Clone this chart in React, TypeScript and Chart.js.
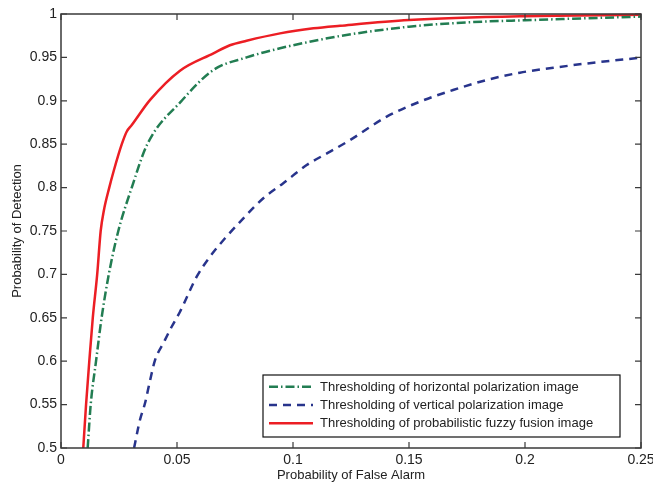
import React, { useEffect, useRef } from "react";
import { Chart, registerables } from "chart.js";

Chart.register(...registerables);

// Horizontal polarization thresholding (green dash-dot)
const hPfa = [0.0115, 0.0128, 0.0151, 0.0175, 0.0206, 0.0247, 0.0305, 0.0372, 0.052, 0.0657, 0.08, 0.0944, 0.1088, 0.1203, 0.15, 0.176, 0.2, 0.25];
const hPd = [0.5, 0.55, 0.6, 0.65, 0.7, 0.75, 0.8, 0.85, 0.9, 0.9355, 0.95, 0.9605, 0.9689, 0.9747, 0.9854, 0.9905, 0.9928, 0.997];

// Vertical polarization thresholding (blue dashed)
const vPfa = [0.0315, 0.034, 0.0362, 0.0384, 0.0405, 0.0441, 0.0477, 0.0513, 0.0585, 0.0642, 0.0707, 0.0786, 0.0872, 0.0958, 0.1059, 0.116, 0.1246, 0.1404, 0.1547, 0.169, 0.1835, 0.1978, 0.2122, 0.2266, 0.25];
const vPd = [0.5, 0.532, 0.5515, 0.578, 0.601, 0.6206, 0.6397, 0.657, 0.6974, 0.7204, 0.7416, 0.7646, 0.7877, 0.805, 0.826, 0.8414, 0.8548, 0.8817, 0.899, 0.9124, 0.924, 0.9324, 0.938, 0.943, 0.9497];

// Probabilistic fuzzy fusion thresholding (red solid)
const fPfa = [0.0096, 0.0108, 0.0122, 0.0137, 0.0156, 0.0171, 0.0185, 0.0208, 0.0228, 0.0262, 0.0283, 0.0305, 0.0384, 0.0513, 0.0657, 0.0728, 0.08, 0.0944, 0.1088, 0.1203, 0.15, 0.2, 0.25];
const fPd = [0.5, 0.55, 0.6, 0.65, 0.7, 0.75, 0.774, 0.8, 0.82, 0.85, 0.8644, 0.872, 0.901, 0.9347, 0.9547, 0.964, 0.9692, 0.9777, 0.9835, 0.9865, 0.993, 0.9975, 0.999];

const seriesLabels = [
  "Thresholding of horizontal polarization image",
  "Thresholding of vertical polarization image",
  "Thresholding of probabilistic fuzzy fusion image",
];

const xTicks = [0, 0.05, 0.1, 0.15, 0.2, 0.25];
const yTicks = [0.5, 0.55, 0.6, 0.65, 0.7, 0.75, 0.8, 0.85, 0.9, 0.95, 1];

const FONT = "'Liberation Sans', Arial, Helvetica, sans-serif";
const GREEN = "rgb(34,125,82)";
const BLUE = "rgb(40,52,140)";
const RED = "rgb(236,30,36)";

const toPts = (xs: number[], ys: number[]) => xs.map((x, i) => ({ x, y: ys[i] }));

const framePlugin = {
  id: "matlabFrame",
  afterDraw(chart: any) {
    const { ctx, chartArea } = chart;
    const { left, top, right, bottom } = chartArea;
    const xs = chart.scales.x;
    const ys = chart.scales.y;
    ctx.save();
    ctx.strokeStyle = "#3a3a3a";
    ctx.lineWidth = 1.5;
    ctx.strokeRect(left, top, right - left, bottom - top);
    ctx.lineWidth = 1.2;
    const tl = 6;
    ctx.beginPath();
    xTicks.forEach((v) => {
      const px = xs.getPixelForValue(v);
      ctx.moveTo(px, bottom);
      ctx.lineTo(px, bottom - tl);
      ctx.moveTo(px, top);
      ctx.lineTo(px, top + tl);
    });
    yTicks.forEach((v) => {
      const py = ys.getPixelForValue(v);
      ctx.moveTo(left, py);
      ctx.lineTo(left + tl, py);
      ctx.moveTo(right, py);
      ctx.lineTo(right - tl, py);
    });
    ctx.stroke();

    // legend
    const bx1 = right - 21;
    const bx0 = bx1 - 357;
    const by1 = bottom - 11;
    const by0 = by1 - 62;
    ctx.fillStyle = "#fff";
    ctx.fillRect(bx0, by0, bx1 - bx0, by1 - by0);
    ctx.strokeStyle = "#111";
    ctx.lineWidth = 1.2;
    ctx.strokeRect(bx0, by0, bx1 - bx0, by1 - by0);
    const rows = [11.7, 30, 48.3];
    chart.data.datasets.forEach((ds: any, i: number) => {
      const yy = by0 + rows[i];
      ctx.beginPath();
      ctx.setLineDash(ds.borderDash || []);
      ctx.strokeStyle = ds.borderColor;
      ctx.lineWidth = ds.borderWidth;
      ctx.moveTo(bx0 + 6, yy);
      ctx.lineTo(bx0 + 50, yy);
      ctx.stroke();
      ctx.setLineDash([]);
      ctx.fillStyle = "#222";
      ctx.font = `13px ${FONT}`;
      ctx.textBaseline = "middle";
      ctx.textAlign = "left";
      ctx.fillText(ds.label, bx0 + 57, yy + 0.5);
    });
    ctx.restore();
  },
};

export default function App() {
  const ref = useRef<HTMLCanvasElement | null>(null);
  useEffect(() => {
    if (!ref.current) return;
    const chart = new Chart(ref.current, {
      type: "line",
      data: {
        datasets: [
          {
            label: seriesLabels[0],
            data: toPts(hPfa, hPd),
            borderColor: GREEN,
            borderWidth: 2.5,
            borderDash: [9, 3, 1.5, 3],
            pointRadius: 0,
            cubicInterpolationMode: "monotone",
            fill: false,
          },
          {
            label: seriesLabels[1],
            data: toPts(vPfa, vPd),
            borderColor: BLUE,
            borderWidth: 2.5,
            borderDash: [8, 6],
            pointRadius: 0,
            cubicInterpolationMode: "monotone",
            fill: false,
          },
          {
            label: seriesLabels[2],
            data: toPts(fPfa, fPd),
            borderColor: RED,
            borderWidth: 2.5,
            pointRadius: 0,
            cubicInterpolationMode: "monotone",
            fill: false,
          },
        ],
      },
      options: {
        animation: false,
        responsive: false,
        clip: false as any,
        layout: { padding: { top: 14, right: 12, left: 0, bottom: 0 } },
        plugins: { legend: { display: false }, tooltip: { enabled: false } },
        scales: {
          x: {
            type: "linear",
            min: 0,
            max: 0.25,
            afterBuildTicks: (s: any) => {
              s.ticks = xTicks.map((v) => ({ value: v }));
            },
            afterFit: (s: any) => {
              s.height = 37;
              s.paddingLeft = 0;
              s.paddingRight = 0;
            },
            grid: { display: false, drawTicks: false },
            border: { display: false },
            ticks: {
              padding: 4,
              color: "#222",
              font: { family: FONT, size: 14 },
              maxRotation: 0,
              autoSkip: false,
              callback: (v: any) => String(Number(v)),
            },
            title: {
              display: true,
              text: "Probability of False Alarm",
              color: "#222",
              font: { family: FONT, size: 13 },
              padding: { top: 0, bottom: 2 },
            },
          },
          y: {
            type: "linear",
            min: 0.5,
            max: 1,
            afterBuildTicks: (s: any) => {
              s.ticks = yTicks.map((v) => ({ value: v }));
            },
            afterFit: (s: any) => {
              s.width = 61;
              s.paddingTop = 0;
              s.paddingBottom = 0;
            },
            grid: { display: false, drawTicks: false },
            border: { display: false },
            ticks: {
              padding: 4,
              color: "#222",
              font: { family: FONT, size: 14 },
              autoSkip: false,
              callback: (v: any) => String(Number(Number(v).toFixed(2))),
            },
            title: {
              display: true,
              text: "Probability of Detection",
              color: "#222",
              font: { family: FONT, size: 13 },
              padding: { top: 10, bottom: 0 },
            },
          },
        },
      },
      plugins: [framePlugin],
    });
    return () => chart.destroy();
  }, []);
  return (
    <div style={{ position: "fixed", left: 0, top: 0, width: 653, height: 485, background: "#fff" }}>
      <canvas ref={ref} width={653} height={485} style={{ display: "block" }} />
    </div>
  );
}
